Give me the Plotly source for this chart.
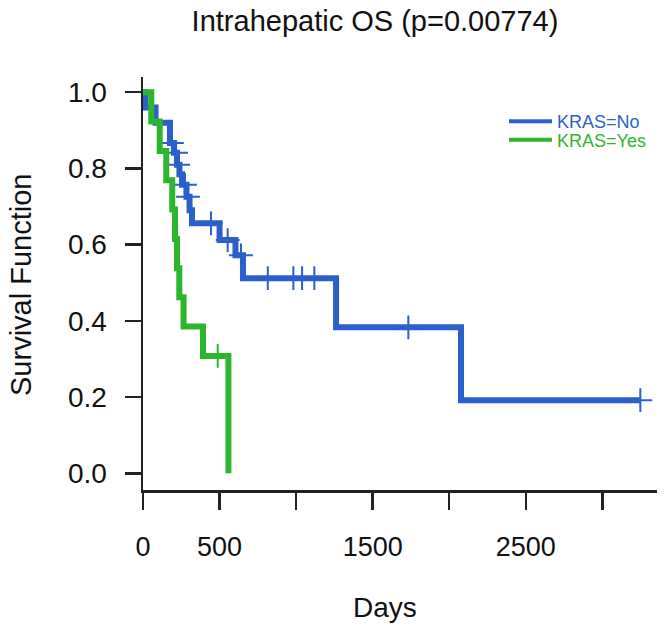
import plotly.graph_objects as go

# ---------------- data ----------------
# KRAS=No (blue): step times (days) and survival after each step
no_event_days = [0, 16, 82, 176, 202, 222, 238, 255, 284, 304, 320, 500, 604, 653, 1261, 2077]
no_surv = [1.0, 0.96, 0.92, 0.867, 0.841, 0.81, 0.785, 0.757, 0.726, 0.69, 0.656,
           0.612, 0.572, 0.512, 0.383, 0.192]
no_censor_days = [189, 216, 229, 274, 294, 444, 553, 640, 815, 982, 1039, 1119, 1733, 3248]

# KRAS=Yes (green)
yes_event_days = [0, 54, 109, 152, 191, 209, 222, 237, 265, 392, 558]
yes_surv = [1.0, 0.923, 0.846, 0.769, 0.692, 0.615, 0.538, 0.462, 0.385, 0.308, 0.0]
yes_censor_days = [488]

series_names = ["KRAS=No", "KRAS=Yes"]
series_colors = ["#2B5FCB", "#2EB52E"]

x_tick_vals = [0, 500, 1000, 1500, 2000, 2500, 3000]
x_tick_text = ["0", "500", "", "1500", "", "2500", ""]
y_tick_vals = [0.0, 0.2, 0.4, 0.6, 0.8, 1.0]
y_tick_text = ["0.0", "0.2", "0.4", "0.6", "0.8", "1.0"]

title_text = "Intrahepatic OS (p=0.00774)"
x_title = "Days"
y_title = "Survival Function"

FONT = "Liberation Sans, Arial, Helvetica, sans-serif"


def surv_at(t, days, surv):
    s = surv[0]
    for d, v in zip(days, surv):
        if d <= t:
            s = v
    return s


def step_xy(days, surv, censors):
    xs = list(days)
    ys = list(surv)
    last = max(censors) if censors else days[-1]
    if last > days[-1]:
        xs.append(last)
        ys.append(surv[-1])
    return xs, ys


fig = go.Figure()

groups = [
    (no_event_days, no_surv, no_censor_days),
    (yes_event_days, yes_surv, yes_censor_days),
]

for i, (days, surv, cens) in enumerate(groups):
    xs, ys = step_xy(days, surv, cens)
    col = series_colors[i]
    fig.add_trace(go.Scatter(
        x=xs, y=ys, mode="lines", line=dict(shape="hv", color=col, width=6),
        showlegend=False, hoverinfo="skip"))
    fig.add_trace(go.Scatter(
        x=cens, y=[surv_at(t, days, surv) for t in cens], mode="markers",
        marker=dict(symbol="cross-thin", size=17, color=col,
                    line=dict(color=col, width=2)),
        showlegend=False, hoverinfo="skip"))

# legend entries (one legend per entry for exact placement)
legend_names = ["legend", "legend2"]
for i, name in enumerate(series_names):
    fig.add_trace(go.Scatter(
        x=[None], y=[None], mode="lines",
        line=dict(color=series_colors[i], width=4),
        name=f"<span style='color:{series_colors[i]}'>{name}</span>",
        legend=legend_names[i], showlegend=True))

# page pixel geometry (body margin is removed by the post script)
W, H = 667, 633
PL, PR, PT, PB = 143, 657, 77, 490          # plot area in page pixels
L, T = PL, PT
R = W - PR
B = H - PB
pw = PR - PL
ph = PB - PT


def px_to_paper_x(px):
    return (px - PL) / pw


def px_to_paper_y(py):
    return (PB - py) / ph


legend_common = dict(
    font=dict(family=FONT, size=18),
    bgcolor="rgba(0,0,0,0)", borderwidth=0,
    xanchor="left", yanchor="middle", itemwidth=43,
)

fig.update_layout(
    width=W, height=H,
    margin=dict(l=L, r=R, t=T, b=B, pad=0),
    paper_bgcolor="white", plot_bgcolor="white",
    font=dict(family=FONT, color="#111"),
    title=dict(text=title_text, x=375 / W, xanchor="center",
               y=1 - 21 / H, yanchor="middle",
               font=dict(family=FONT, size=29, color="#111")),
    legend=dict(x=px_to_paper_x(504), y=px_to_paper_y(121.5), **legend_common),
    legend2=dict(x=px_to_paper_x(504), y=px_to_paper_y(140), **legend_common),
    xaxis=dict(
        range=[0, 3357], showgrid=False, zeroline=False,
        showline=True, linecolor="#222", linewidth=2.5,
        ticks="outside", ticklen=17, tickwidth=2.5, tickcolor="#222",
        tickvals=x_tick_vals, ticktext=x_tick_text,
        tickfont=dict(family=FONT, size=27, color="#111"),
        ticklabelstandoff=14,
    ),
    yaxis=dict(
        range=[-0.0438, 1.040], showgrid=False, zeroline=False,
        showline=True, linecolor="#222", linewidth=2.5,
        ticks="outside", ticklen=16, tickwidth=2.5, tickcolor="#222",
        tickvals=y_tick_vals, ticktext=y_tick_text,
        tickfont=dict(family=FONT, size=28, color="#111"),
        ticklabelstandoff=12,
    ),
    annotations=[
        dict(text=x_title, xref="paper", yref="paper",
             x=px_to_paper_x(385), y=px_to_paper_y(607),
             xanchor="center", yanchor="middle", showarrow=False,
             font=dict(family=FONT, size=28, color="#111")),
        dict(text=y_title, xref="paper", yref="paper",
             x=px_to_paper_x(21), y=px_to_paper_y(285),
             xanchor="center", yanchor="middle", showarrow=False,
             textangle=-90,
             font=dict(family=FONT, size=29, color="#111")),
    ],
)

fig.write_html(
    "out.html",
    config={"displayModeBar": False, "staticPlot": True},
    post_script="document.body.style.margin='0px'; document.body.style.overflow='hidden';",
)
